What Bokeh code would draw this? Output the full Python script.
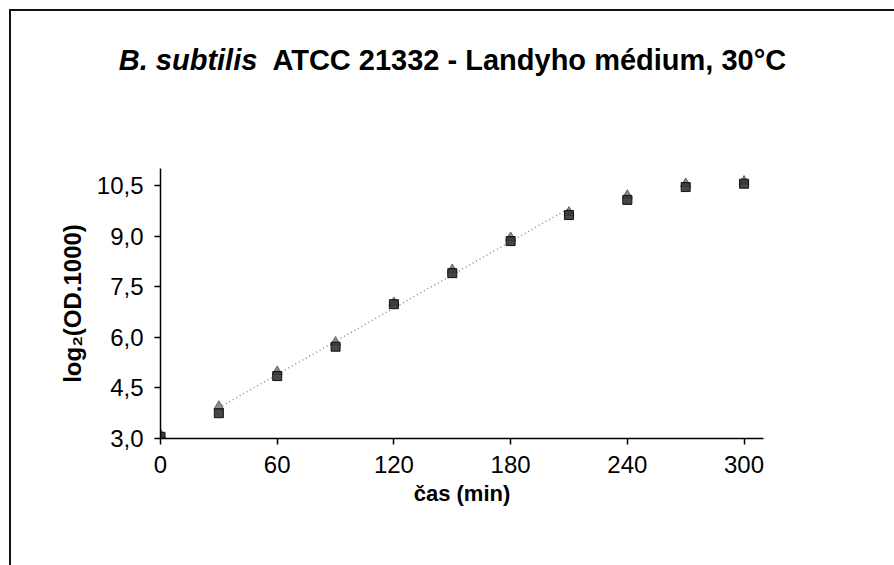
from bokeh.plotting import figure
from bokeh.models import Range1d, FixedTicker, CustomJSTickFormatter, Div
from bokeh.layouts import column
from bokeh.embed import file_html
from bokeh.resources import INLINE
import numpy as np

# data (time in minutes, log2(OD*1000))
time_min = [0, 30, 60, 90, 120, 150, 180, 210, 240, 270, 300]
rep1 = [3.12, 3.95, 4.98, 5.85, 7.02, 8.00, 8.95, 9.70, 10.20, 10.55, 10.62]
rep2 = [3.05, 3.75, 4.85, 5.72, 6.98, 7.90, 8.85, 9.62, 10.07, 10.45, 10.55]
x_ticks = [0, 60, 120, 180, 240, 300]
y_ticks = [3.0, 4.5, 6.0, 7.5, 9.0, 10.5]
fit_start, fit_end = 30, 210

title_italic = "B. subtilis"
title_rest = "ATCC 21332 - Landyho médium, 30°C"
x_label = "čas (min)"
y_label = "log₂(OD.1000)"

FONT = "Liberation Sans"

title_html = (f'<div style="font-family:\'{FONT}\'; font-size:29px; font-weight:bold; color:black; '
              f'text-align:center; width:883px; line-height:98px; white-space:nowrap;">'
              f'<i>{title_italic}</i>&nbsp; {title_rest}</div>')
title_div = Div(text=title_html, width=883, height=100, margin=0)

p = figure(width=883, height=454, output_backend="svg", toolbar_location=None,
           x_range=Range1d(0, 310), y_range=Range1d(3, 11),
           min_border_left=149, min_border_top=57, min_border_right=131, min_border_bottom=127)
p.margin = 0
p.outline_line_color = None
p.grid.visible = False
p.background_fill_color = "white"

# linear trend over exponential phase
t = np.array(time_min, dtype=float)
m = (np.array(rep1) + np.array(rep2)) / 2
sel = (t >= fit_start) & (t <= fit_end)
k, b = np.polyfit(t[sel], m[sel], 1)
xs = np.array([fit_start, fit_end], dtype=float)
p.line(xs, k * xs + b, line_color="#8a8a8a", line_width=1.5, line_dash="1 3")

p.scatter(time_min, rep1, marker="triangle", size=10, fill_color="#8a8a8a", line_color="#666666")
p.scatter(time_min, rep2, marker="square", size=9, fill_color="#333333", line_color="#111111", fill_alpha=0.9)

for ax in (p.xaxis[0], p.yaxis[0]):
    ax.axis_line_width = 1.5
    ax.axis_line_color = "black"
    ax.major_tick_line_color = "black"
    ax.major_tick_line_width = 1.5
    ax.minor_tick_line_color = None
    ax.major_tick_in = 0
    ax.major_tick_out = 6
    ax.major_label_text_font = FONT
    ax.major_label_text_font_size = "24px"
    ax.major_label_text_color = "black"
    ax.axis_label_text_font = FONT
    ax.axis_label_text_font_style = "bold"
    ax.axis_label_text_color = "black"

p.xaxis.axis_label_text_font_size = "22px"
p.yaxis.axis_label_text_font_size = "24px"
p.xaxis.ticker = FixedTicker(ticks=x_ticks)
p.yaxis.ticker = FixedTicker(ticks=y_ticks)
p.yaxis.formatter = CustomJSTickFormatter(code="return tick.toFixed(1).replace('.', ',');")
p.xaxis.axis_label = x_label
p.yaxis.axis_label = y_label
p.xaxis.major_label_standoff = 11
p.yaxis.major_label_standoff = 11
p.xaxis.axis_label_standoff = 5
p.yaxis.axis_label_standoff = 8

layout = column(title_div, p, spacing=0)
layout.margin = (9, 0, 0, 9)
layout.styles = {"border-top": "2px solid #111", "border-left": "2px solid #111"}

open("out.html", "w").write(file_html(layout, INLINE))
